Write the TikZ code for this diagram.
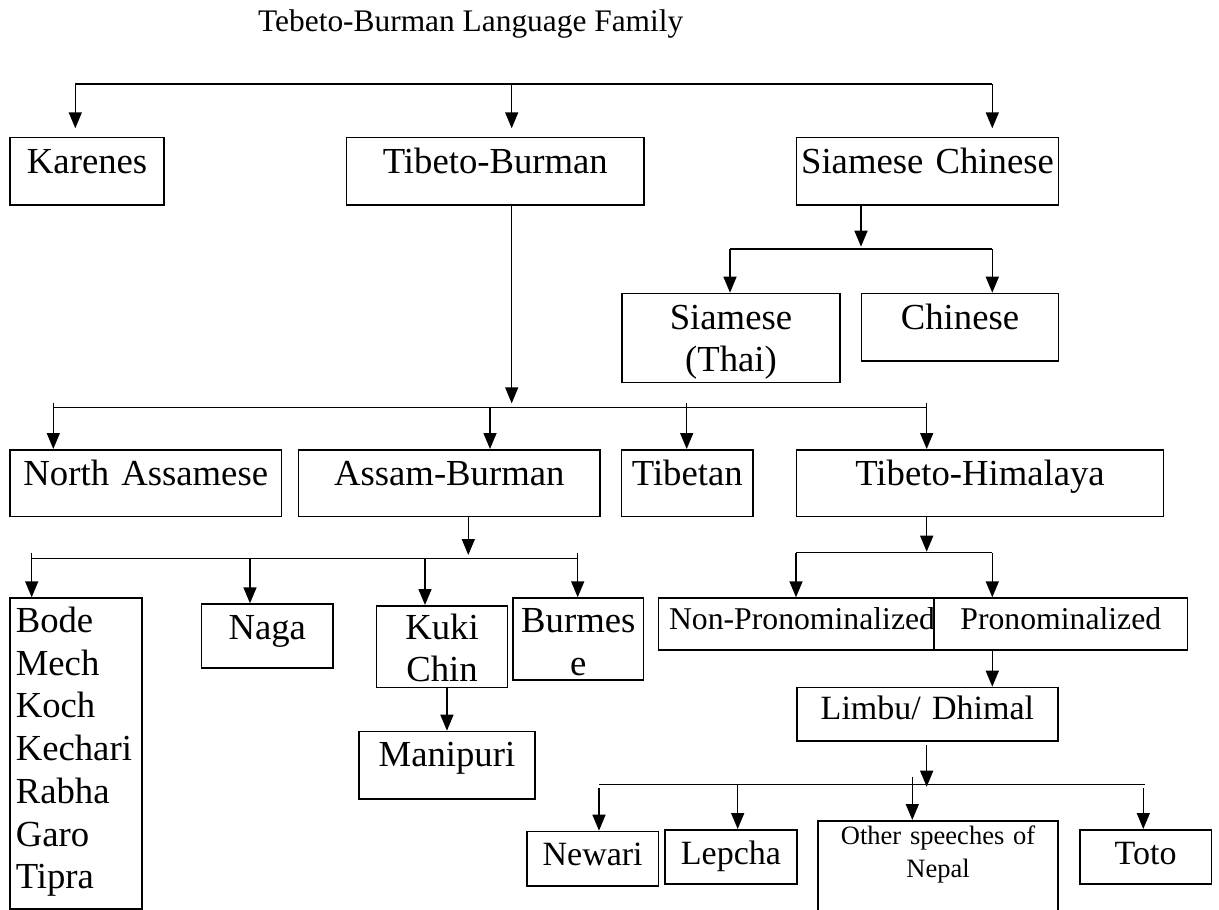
\documentclass[tikz,border=0pt]{standalone}
\usepackage{fontspec}
\setmainfont{Liberation Serif}
\usetikzlibrary{arrows.meta}
\newcommand\fbig{\fontsize{36.7pt}{42.7pt}\selectfont}
\newcommand\fmid{\fontsize{34pt}{40pt}\selectfont}
\newcommand\fsm{\fontsize{31.7pt}{38pt}\selectfont}
\newcommand\ftn{\fontsize{26.5pt}{33.4pt}\selectfont}
\newcommand\fttl{\fontsize{31.4pt}{36pt}\selectfont}
\begin{document}
\begin{tikzpicture}[x=1pt,y=-1pt,
  box/.style={draw, line width=1.6pt, inner sep=0pt, anchor=north west, align=center, font=\fbig},
  sz/.style n args={3}{text width=#1pt, text height=#2pt, text depth=#3pt},
  ln/.style={line width=1.5pt},
  arr/.style={line width=1.5pt, -{Triangle[length=16pt,width=13pt]}}]
\clip (0,0) rectangle (1219,910);
% title
\node[anchor=base west, font=\fttl, inner sep=0pt] (title) at (258,31) {Tebeto-Burman Language Family};
% boxes
\node[box, sz={154}{36}{31.6}] (kar) at (9.3,136.7) {Karenes};
\node[box, sz={297.6}{36}{31.6}] (tb) at (345.7,136.7) {Tibeto-Burman};
\node[box, sz={262}{36}{31.6}] (sc) at (795.7,136.7) {Siamese Chinese};
\node[box, sz={218.3}{35.6}{53.4}] (sia) at (621,292.7) {Siamese\\(Thai)};
\node[box, sz={197}{35.6}{31.7}] (chi) at (860.7,292.7) {Chinese};
\node[box, sz={271.4}{36}{30.7}] (na) at (9.3,449) {North Assamese};
\node[box, sz={301.6}{36}{30.7}] (ab) at (297.7,449) {Assam-Burman};
\node[box, sz={131.6}{36}{30.7}] (tib) at (620.7,449) {Tibetan};
\node[box, sz={367}{36}{30.7}] (th) at (795.7,449) {Tibeto-Himalaya};
\node[box, sz={120.6}{34.4}{276.6}, inner xsep=5.7pt, align=left] (bode) at (9.3,597.3) {Bode\\Mech\\Koch\\Kechari\\Rabha\\Garo\\Tipra};
\node[box, sz={131.6}{35}{28.7}] (naga) at (200.7,603.3) {Naga};
\node[box, sz={131}{33.3}{48.4}] (kuki) at (375.7,605) {Kuki\\Chin};
\node[box, sz={130.4}{34.4}{47.3}] (bur) at (512.3,597.3) {Burmes\\e};
\node[box, sz={175.7}{35.3}{32.3}] (man) at (358.3,730.7) {Manipuri};
\node[box, sz={288.3}{31}{20.7}, font=\fsm, align=left] (np) at (657.7,597.3) {\hspace*{10.6pt}\mbox{Non-Pronominalized}};
\node[box, sz={253.4}{31}{20.7}, font=\fsm, fill=white] (pr) at (933.3,597.3) {Pronominalized};
\node[box, sz={261.3}{31.6}{21.7}, font=\fmid] (lim) at (796,686.7) {Limbu/ Dhimal};
\node[box, sz={131.7}{34.3}{20}, font=\fmid] (new) at (526,830.7) {Newari};
\node[box, sz={131.7}{34.3}{20}, font=\fmid] (lep) at (664.3,829) {Lepcha};
\node[box, sz={240}{23.3}{75}, font=\ftn] (oth) at (817.3,820) {Other speeches of\\Nepal};
\node[box, sz={131.7}{34.3}{20}, font=\fmid] (toto) at (1079,829) {Toto};
% level 1
\coordinate (t1l) at (75.3,84);
\coordinate (t1m) at (511.7,84);
\coordinate (t1r) at (992.3,84);
\draw[ln] (t1l) -- (t1r);
\draw[arr, shorten >=8.4pt] (t1l) -- (t1l |- kar.north);
\draw[arr, shorten >=8.4pt] (t1m) -- (t1m |- tb.north);
\draw[arr, shorten >=8.4pt] (t1r) -- (t1r |- sc.north);
% Siamese Chinese
\coordinate (s2m) at (861,246.7);
\coordinate (s2l) at (730,249);
\coordinate (s2r) at (992.3,249);
\draw[arr] (s2m |- sc.south) -- (s2m);
\draw[ln] (s2l) -- (s2r);
\draw[arr] (s2l) -- (s2l |- sia.north);
\draw[arr] (s2r) -- (s2r |- chi.north);
% Tibeto-Burman
\coordinate (t2m) at (511.7,403.3);
\coordinate (t2a) at (53.3,403.3);
\coordinate (t2b) at (490,407.7);
\coordinate (t2c) at (686.7,403.3);
\coordinate (t2d) at (926.7,403.3);
\draw[arr] (t2m |- tb.south) -- (t2m);
\draw[ln] (t2a |- t2b) -- (t2d |- t2b);
\draw[arr] (t2a) -- (t2a |- na.north);
\draw[arr] (t2b) -- (t2b |- ab.north);
\draw[arr] (t2c) -- (t2c |- tib.north);
\draw[arr] (t2d) -- (t2d |- th.north);
% Assam-Burman
\coordinate (a3m) at (468.3,555);
\coordinate (a3a) at (31.7,552.7);
\coordinate (a3b) at (250,558.3);
\coordinate (a3c) at (425,558.3);
\coordinate (a3d) at (577.7,552.7);
\draw[arr] (a3m |- ab.south) -- (a3m);
\draw[ln] (a3a |- a3b) -- (a3d |- a3b);
\draw[arr] (a3a) -- (a3a |- bode.north);
\draw[arr] (a3b) -- (a3b |- naga.north);
\draw[arr] (a3c) -- (a3c |- kuki.north);
\draw[arr] (a3d) -- (a3d |- bur.north);
\draw[arr] (man.north |- kuki.south) -- (man.north);
% Tibeto-Himalaya
\coordinate (h3m) at (926.7,551.7);
\coordinate (h3a) at (796,552.7);
\coordinate (h3b) at (992.3,552.7);
\draw[arr] (h3m |- th.south) -- (h3m);
\draw[ln] (h3a) -- (h3b);
\draw[arr] (h3a) -- (h3a |- np.north);
\draw[arr] (h3b) -- (h3b |- pr.north);
\draw[arr] (h3b |- pr.south) -- (h3b |- lim.north);
% Limbu / Dhimal
\coordinate (l5m) at (926.7,786.7);
\coordinate (l5a) at (599,788.3);
\coordinate (l5b) at (737.7,784.3);
\coordinate (l5c) at (912.3,776.7);
\coordinate (l5d) at (1143.3,788.3);
\coordinate (l5e) at (1145,784.3);
\draw[arr, shorten <=3pt] (l5m |- lim.south) -- (l5m);
\draw[ln] (l5a |- l5b) -- (l5e);
\draw[arr] (l5a) -- (l5a |- new.north);
\draw[arr] (l5b) -- (l5b |- lep.north);
\draw[arr] (l5c) -- (l5c |- oth.north);
\draw[arr] (l5d) -- (l5d |- toto.north);
\end{tikzpicture}
\end{document}
